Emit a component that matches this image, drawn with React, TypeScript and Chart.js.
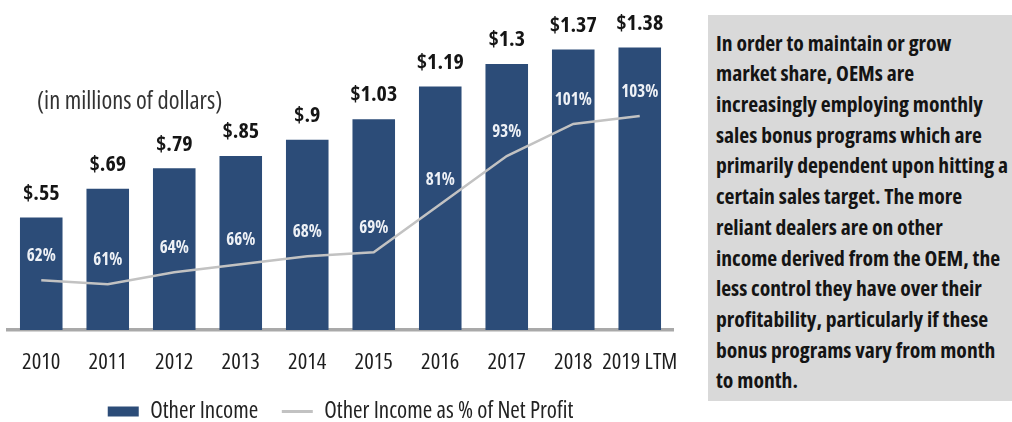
import React, { useEffect, useRef } from "react";
import { Chart, registerables } from "chart.js";

Chart.register(...registerables);

const categories = ["2010", "2011", "2012", "2013", "2014", "2015", "2016", "2017", "2018", "2019 LTM"];
const otherIncome = [0.55, 0.69, 0.79, 0.85, 0.93, 1.03, 1.19, 1.3, 1.37, 1.38];
const otherIncomeLabels = ["$.55", "$.69", "$.79", "$.85", "$.9", "$1.03", "$1.19", "$1.3", "$1.37", "$1.38"];
const pctOfNetProfit = [62, 61, 64, 66, 68, 69, 81, 93, 101, 103];
const pctLabels = ["62%", "61%", "64%", "66%", "68%", "69%", "81%", "93%", "101%", "103%"];
const seriesNames = ["Other Income", "Other Income as % of Net Profit"];
const subtitle = "(in millions of dollars)";
const noteLines = [
  "In order to maintain or grow",
  "market share, OEMs are",
  "increasingly employing monthly",
  "sales bonus programs which are",
  "primarily dependent upon hitting a",
  "certain sales target. The more",
  "reliant dealers are on other",
  "income derived from the OEM, the",
  "less control they have over their",
  "profitability, particularly if these",
  "bonus programs vary from month",
  "to month.",
];

const FAMILY = "'Open Sans', 'Roboto', sans-serif";
const BAR_COLOR = "#2c4c78";
const LINE_COLOR = "#c2c2c2";

const labelPlugin = {
  id: "valueLabels",
  afterDatasetsDraw(chart: any) {
    const ctx = chart.ctx;
    const barMeta = chart.getDatasetMeta(0);
    const lineMeta = chart.getDatasetMeta(1);
    ctx.save();
    ctx.textAlign = "center";
    ctx.textBaseline = "middle";
    ctx.font = `condensed bold 22px ${FAMILY}`;
    ctx.fontStretch = "condensed";
    ctx.fillStyle = "#151515";
    barMeta.data.forEach((bar: any, i: number) => {
      ctx.fillText(otherIncomeLabels[i], bar.x, bar.y - 24);
    });
    ctx.font = `condensed bold 17px ${FAMILY}`;
    ctx.fontStretch = "condensed";
    ctx.fillStyle = "#eef1f6";
    lineMeta.data.forEach((pt: any, i: number) => {
      ctx.fillText(pctLabels[i], pt.x, pt.y - 24);
    });
    ctx.restore();
  },
};

export default function App() {
  const canvasRef = useRef<HTMLCanvasElement | null>(null);

  useEffect(() => {
    if (!canvasRef.current) return;
    const chart = new Chart(canvasRef.current, {
      type: "bar",
      data: {
        labels: categories,
        datasets: [
          {
            type: "bar",
            label: seriesNames[0],
            data: otherIncome,
            backgroundColor: BAR_COLOR,
            borderWidth: 0,
            barPercentage: 0.64,
            categoryPercentage: 1,
            yAxisID: "y",
            order: 2,
          } as any,
          {
            type: "line",
            label: seriesNames[1],
            data: pctOfNetProfit,
            borderColor: LINE_COLOR,
            backgroundColor: LINE_COLOR,
            borderWidth: 2.5,
            pointRadius: 0,
            tension: 0,
            yAxisID: "y1",
            order: 1,
          } as any,
        ],
      },
      options: {
        animation: false,
        responsive: false,
        maintainAspectRatio: false,
        layout: { padding: { left: 8, right: 27, top: 23, bottom: 0 } },
        plugins: {
          tooltip: { enabled: false },
          legend: {
            position: "bottom",
            labels: {
              usePointStyle: true,
              pointStyleWidth: 31,
              boxHeight: 10,
              padding: 23.6,
              color: "#222",
              font: { family: FAMILY, size: 23, weight: "condensed" as any },
              sort: (a: any, b: any) => a.datasetIndex - b.datasetIndex,
              generateLabels: (chart: any) =>
                chart.data.datasets.map((ds: any, i: number) => ({
                  text: ds.label,
                  datasetIndex: i,
                  fillStyle: i === 0 ? BAR_COLOR : LINE_COLOR,
                  strokeStyle: i === 0 ? BAR_COLOR : LINE_COLOR,
                  lineWidth: i === 0 ? 0 : 3,
                  pointStyle: i === 0 ? "rect" : "line",
                  fontColor: "#222",
                  hidden: false,
                })),
            },
          },
        },
        scales: {
          x: {
            grid: { display: false, drawTicks: false },
            border: { display: true, color: "#a9a9a9", width: 3.5 },
            afterFit: (scale: any) => {
              scale.height = 46.4;
            },
            ticks: {
              color: "#1e1e1e",
              padding: 19,
              font: { family: FAMILY, size: 22.5, weight: "condensed" as any },
              maxRotation: 0,
              autoSkip: false,
            },
          },
          y: {
            display: false,
            min: 0,
            max: 1.5,
          },
          y1: {
            display: false,
            min: 49.6,
            max: 126.2,
          },
        },
      },
      plugins: [labelPlugin],
    });
    return () => chart.destroy();
  }, []);

  return (
    <div
      style={{
        position: "fixed",
        left: 0,
        top: 0,
        width: 1012,
        height: 422,
        overflow: "hidden",
        background: "#ffffff",
      }}
    >
      <canvas ref={canvasRef} width={700} height={433} style={{ position: "absolute", left: 0, top: 0 }} />
      <div
        style={{
          position: "absolute",
          left: 37,
          top: 83,
          fontFamily: FAMILY,
          fontStretch: "condensed",
          fontSize: 24.5,
          lineHeight: "33px",
          color: "#333",
          whiteSpace: "nowrap",
        }}
      >
        {subtitle}
      </div>
      <div
        style={{
          position: "absolute",
          left: 708,
          top: 15,
          width: 304,
          height: 386,
          boxSizing: "border-box",
          background: "#d9d9d9",
          paddingLeft: 8,
          paddingTop: 12.6,
          fontFamily: FAMILY,
          fontStretch: "condensed",
          fontWeight: "bold",
          fontSize: 21.6,
          lineHeight: "30.7px",
          color: "#141414",
          whiteSpace: "nowrap",
        }}
      >
        {noteLines.map((l, i) => (
          <div key={i}>{l}</div>
        ))}
      </div>
    </div>
  );
}
